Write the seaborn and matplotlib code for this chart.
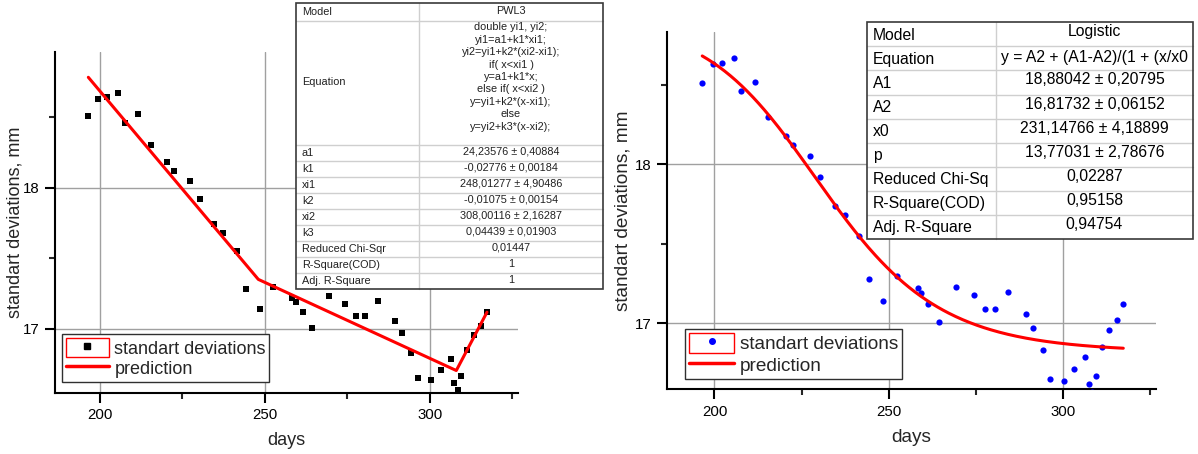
import numpy as np
import matplotlib
matplotlib.use("Agg")
import matplotlib.pyplot as plt
import seaborn as sns
from matplotlib.patches import Rectangle
from matplotlib.lines import Line2D
from matplotlib.legend_handler import HandlerTuple
from matplotlib.ticker import MultipleLocator

# ---------------- data ----------------
days = [196.5, 199.5, 202.3, 205.5, 207.6, 211.5, 215.5, 220.4, 222.4, 227.4,
        230.3, 234.5, 237.4, 241.4, 244.4, 248.4, 252.4, 258.3, 259.4, 261.4,
        264.3, 269.4, 274.4, 277.5, 280.4, 284.3, 289.3, 291.4, 294.3, 296.4,
        300.4, 303.3, 306.4, 307.4, 308.4, 309.4, 311.3, 313.3, 315.4, 317.3]
std_dev = [18.51, 18.63, 18.64, 18.67, 18.46, 18.52, 18.30, 18.18, 18.12, 18.05,
           17.92, 17.74, 17.68, 17.55, 17.28, 17.14, 17.30, 17.22, 17.19, 17.12,
           17.01, 17.23, 17.18, 17.09, 17.09, 17.20, 17.06, 16.97, 16.83, 16.65,
           16.64, 16.71, 16.79, 16.62, 16.57, 16.67, 16.85, 16.96, 17.02, 17.12]

# PWL3 fit (left table)
pwl_names = ["a1", "k1", "xi1", "k2", "xi2", "k3",
             "Reduced Chi-Sqr", "R-Square(COD)", "Adj. R-Square"]
pwl_cells = ["24,23576 ± 0,40884", "-0,02776 ± 0,00184", "248,01277 ± 4,90486",
             "-0,01075 ± 0,00154", "308,00116 ± 2,16287", "0,04439 ± 0,01903",
             "0,01447", "1", "1"]
pwl_equation = ["double yi1, yi2;", "yi1=a1+k1*xi1;", "yi2=yi1+k2*(xi2-xi1);",
                "if( x<xi1 )", "y=a1+k1*x;", "else if( x<xi2 )",
                "y=yi1+k2*(x-xi1);", "else", "y=yi2+k3*(x-xi2);"]
a1, k1, xi1, k2, xi2, k3 = 24.23576, -0.02776, 248.01277, -0.01075, 308.00116, 0.04439

# Logistic fit (right table) - cell texts as visible in the picture
logi_names = ["Model", "Equation", "A1", "A2", "x0", "p",
              "Reduced Chi-Sq", "R-Square(COD)", "Adj. R-Square"]
logi_cells = ["Logistic", "y = A2 + (A1-A2)/(1 + (x/x0",
              "18,88042 ± 0,20795", "16,81732 ± 0,06152", "231,14766 ± 4,18899",
              "13,77031 ± 2,78676", "0,02287", "0,95158", "0,94754"]
A1, A2, x0, p = 18.88042, 16.81732, 231.14766, 13.77031

# fitted predictions evaluated from the table parameters
yi1 = a1 + k1 * xi1
yi2 = yi1 + k2 * (xi2 - xi1)
pwl_x = np.array([days[0], xi1, xi2, days[-1]])
pwl_y = np.array([a1 + k1 * days[0], yi1, yi2, yi2 + k3 * (days[-1] - xi2)])
log_x = np.linspace(days[0], days[-1], 300)
log_y = A2 + (A1 - A2) / (1 + (log_x / x0) ** p)

# ---------------- figure ----------------
sns.set_style("ticks")
plt.rcParams["font.family"] = ["Liberation Sans", "DejaVu Sans"]

W, H = 1198, 454
fig = plt.figure(figsize=(W / 100, H / 100), dpi=100)


def px_axes(l, t, r, b):
    return fig.add_axes([l / W, (H - b) / H, (r - l) / W, (b - t) / H])


axL = px_axes(55, 52, 518, 393)
axR = px_axes(666.7, 32.3, 1155.7, 389.3)

sns.scatterplot(x=days, y=std_dev, ax=axL, marker="s", color="black", s=16,
                linewidth=0, zorder=3)
sns.lineplot(x=pwl_x, y=pwl_y, ax=axL, color="red", lw=2.2, sort=False,
             estimator=None, zorder=4)

sns.scatterplot(x=days, y=std_dev, ax=axR, marker="o", color="blue", s=20,
                linewidth=0, zorder=3)
sns.lineplot(x=log_x, y=log_y, ax=axR, color="red", lw=2.2, sort=False,
             estimator=None, zorder=4)

axL.set_xlim(186.4, 326.7)
axL.set_ylim(16.547, 18.96)
axR.set_xlim(186.3, 326.6)
axR.set_ylim(16.585, 18.83)

for ax, fs_lab, xl_y, yl_x in [(axL, 13, -0.138, -0.086),
                               (axR, 13.7, -0.136, -0.089)]:
    sns.despine(ax=ax)
    for s in ["left", "bottom"]:
        ax.spines[s].set_linewidth(1.5)
        ax.spines[s].set_color("black")
    ax.xaxis.set_major_locator(MultipleLocator(50))
    ax.xaxis.set_minor_locator(MultipleLocator(25))
    ax.yaxis.set_major_locator(MultipleLocator(1))
    ax.yaxis.set_minor_locator(MultipleLocator(0.5))
    ax.tick_params(which="major", direction="out", length=7, width=1.5,
                   labelsize=10.8, pad=4, colors="black")
    ax.tick_params(which="minor", direction="out", length=4, width=1.5)
    ax.grid(True, which="major", color="#a0a0a0", lw=1)
    ax.set_axisbelow(True)
    ax.set_xlabel("days", fontsize=fs_lab, va="center")
    ax.set_ylabel("standart deviations, mm", fontsize=fs_lab, va="center")
    ax.xaxis.set_label_coords(0.5, xl_y)
    ax.yaxis.set_label_coords(yl_x, 0.5)

# legends
for ax, mk, col, anchor, fs in [(axL, "s", "black", (0.0151, 0.0323), 13),
                                (axR, "o", "blue", (0.0374, 0.0289), 13.7)]:
    box = Rectangle((0, 0), 1, 1, fill=False, edgecolor="red", lw=1)
    pt = Line2D([], [], marker=mk, color=col, ls="none", markersize=4)
    ln = Line2D([], [], color="red", lw=2.5)
    leg = ax.legend([(box, pt), ln], ["standart deviations", "prediction"],
                    handler_map={tuple: HandlerTuple(ndivide=1, pad=0)},
                    loc="lower left", bbox_to_anchor=anchor, borderaxespad=0,
                    fontsize=fs, frameon=True, fancybox=False, framealpha=1,
                    edgecolor="#303030", handlelength=2.4, handleheight=1.3,
                    handletextpad=0.3, borderpad=0.2, labelspacing=0.05)
    leg.get_frame().set_linewidth(1)
    leg.set_zorder(6)

# ---------------- fit tables (overlay in pixel coordinates) ----------------
ov = fig.add_axes([0, 0, 1, 1], zorder=10)
ov.set_xlim(0, W)
ov.set_ylim(H, 0)
ov.axis("off")


def draw_frame(xl, xd, xr, edges):
    ov.add_patch(Rectangle((xl, edges[0]), xr - xl, edges[-1] - edges[0],
                           facecolor="white", edgecolor="none", zorder=1))
    for e in edges[1:-1]:
        ov.plot([xl, xr], [e, e], color="#cfcfcf", lw=1, zorder=2)
    ov.plot([xd, xd], [edges[0], edges[-1]], color="#cfcfcf", lw=1, zorder=2)
    ov.add_patch(Rectangle((xl, edges[0]), xr - xl, edges[-1] - edges[0],
                           facecolor="none", edgecolor="#3a3a3a", lw=1.2, zorder=3))


# left table (PWL3)
Lx0, Ldiv, Lx1 = 296, 419, 603
L_edges = [3, 21, 145] + [145 + 16 * (i + 1) for i in range(9)]
draw_frame(Lx0, Ldiv, Lx1, L_edges)
fsL = 7.8
tc = "#202020"
ov.text(Lx0 + 6, 12, "Model", fontsize=fsL, va="center", ha="left", color=tc, zorder=4)
ov.text((Ldiv + Lx1) / 2, 11, "PWL3", fontsize=fsL, va="center", ha="center", color=tc, zorder=4)
ov.text(Lx0 + 6, 82, "Equation", fontsize=fsL, va="center", ha="left", color=tc, zorder=4)
ov.text((Ldiv + Lx1) / 2, 77, "\n".join(pwl_equation), fontsize=fsL, va="center",
        ha="center", color=tc, linespacing=1.3, zorder=4)
for i, (nm, val) in enumerate(zip(pwl_names, pwl_cells)):
    yc = (L_edges[2 + i] + L_edges[3 + i]) / 2
    ov.text(Lx0 + 6, yc + 0.5, nm, fontsize=fsL, va="center", ha="left", color=tc, zorder=4)
    ov.text((Ldiv + Lx1) / 2, yc - 1, val, fontsize=fsL, va="center", ha="center",
            color=tc, zorder=4)

# right table (Logistic)
Rx0, Rdiv, Rx1 = 867, 996, 1193
R_edges = [22.3 + 24.08 * i for i in range(10)]
draw_frame(Rx0, Rdiv, Rx1, R_edges)
fsR = 11.3
for i, (nm, val) in enumerate(zip(logi_names, logi_cells)):
    yc = (R_edges[i] + R_edges[i + 1]) / 2
    ov.text(Rx0 + 6, yc + 1, nm, fontsize=fsR, va="center", ha="left",
            color="black", zorder=4)
    if nm == "Equation":
        ov.text(Rdiv + 5, yc - 1, val, fontsize=fsR, va="center", ha="left",
                color="black", zorder=4)
    else:
        ov.text((Rdiv + Rx1) / 2, yc - 2.5, val, fontsize=fsR, va="center",
                ha="center", color="black", zorder=4)

fig.savefig("out.png", dpi=100)
